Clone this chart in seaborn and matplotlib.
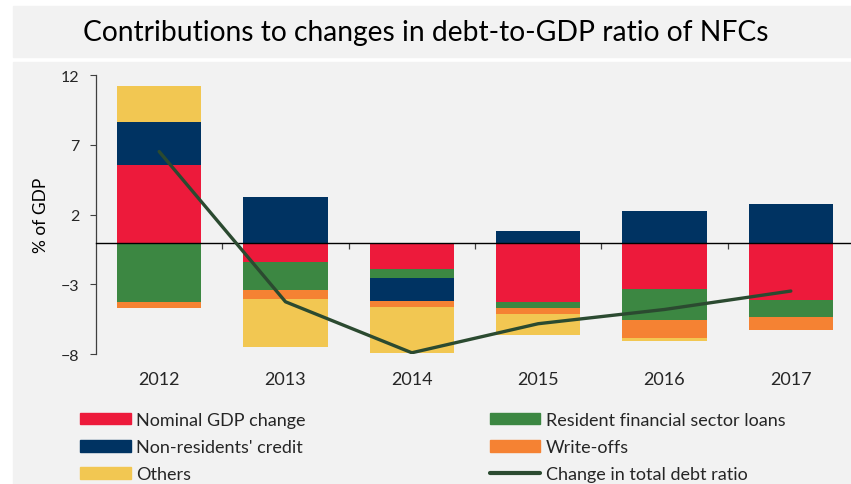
import numpy as np
import pandas as pd
import matplotlib
matplotlib.use("Agg")
import matplotlib.pyplot as plt
from matplotlib.patches import Rectangle, Patch
from matplotlib.lines import Line2D
import seaborn as sns

# Contributions (percentage points of GDP), stacked in this order
years = ["2012", "2013", "2014", "2015", "2016", "2017"]
nominal_gdp = [5.57, -1.37, -1.92, -4.26, -3.31, -4.09]
resident_loans = [-4.24, -1.99, -0.65, -0.41, -2.22, -1.25]
non_resident_credit = [3.06, 3.26, -1.60, 0.82, 2.25, 2.73]
write_offs = [-0.45, -0.66, -0.43, -0.43, -1.28, -0.93]
others = [2.57, -3.46, -3.29, -1.55, -0.27, 0.0]
total_change = [6.52, -4.24, -7.89, -5.81, -4.79, -3.47]

y_ticks = [-8, -3, 2, 7, 12]

RED = "#ED1A3B"
GREEN = "#3C8742"
NAVY = "#003362"
ORANGE = "#F58233"
YELLOW = "#F2C752"
LINE = "#2B4A30"
PANEL = "#F2F2F2"

components = [
    ("Nominal GDP change", nominal_gdp, RED),
    ("Resident financial sector loans", resident_loans, GREEN),
    ("Non-residents' credit", non_resident_credit, NAVY),
    ("Write-offs", write_offs, ORANGE),
    ("Others", others, YELLOW),
]

sns.set_theme(style="white")
plt.rcParams["font.family"] = ["Lato", "DejaVu Sans"]

W, H = 851, 485
fig = plt.figure(figsize=(W / 100, H / 100), dpi=100)
fig.patch.set_facecolor("white")

# grey title strip and chart panel
fig.patches.append(Rectangle((13 / W, 1 - 58 / H), 838 / W, 51 / H,
                             transform=fig.transFigure, color=PANEL, zorder=-5))
fig.patches.append(Rectangle((13 / W, 0), 838 / W, (H - 63) / H,
                             transform=fig.transFigure, color=PANEL, zorder=-5))
fig.text(426 / W, 1 - 33 / H, "Contributions to changes in debt-to-GDP ratio of NFCs",
         ha="center", va="center", fontsize=20.3, color="black")

ax = fig.add_axes([96 / W, (H - 355.3) / H, 758 / W, 279.3 / H])
ax.set_facecolor("none")
ax.set_zorder(2)

# stacked bars: positive and negative parts stack separately from zero;
# outer segments are drawn first so inner ones sit on top of them
vals = np.array([c[1] for c in components], dtype=float)
pos_cum = np.cumsum(np.clip(vals, 0, None), axis=0)
neg_cum = np.cumsum(np.clip(vals, None, 0), axis=0)
ends = np.where(vals > 0, pos_cum, np.where(vals < 0, neg_cum, 0.0))

for k in reversed(range(len(components))):
    df = pd.DataFrame({"year": years, "end": ends[k]})
    sns.barplot(data=df, x="year", y="end", color=components[k][2], saturation=1,
                width=0.667, linewidth=0, ax=ax, zorder=2)

sns.lineplot(x=np.arange(len(years)), y=total_change, color=LINE, linewidth=2.4,
             ax=ax, zorder=4, solid_capstyle="round")

ax.set_xlim(-0.5, len(years) - 0.5)
ax.set_ylim(-8, 12)
ax.set_yticks(y_ticks)
ax.tick_params(axis="y", labelsize=11.5, length=4, width=0.8, color="#404040",
               direction="out", pad=8, left=True)
ax.set_ylabel("% of GDP", fontsize=12.5, color="black")
ax.yaxis.set_label_coords(-0.062, 0.5)

for s in ("top", "right"):
    ax.spines[s].set_visible(False)
ax.spines["left"].set_color("#404040")
ax.spines["left"].set_linewidth(0.9)
ax.spines["bottom"].set_position(("data", 0))
ax.spines["bottom"].set_color("black")
ax.spines["bottom"].set_linewidth(1.0)
ax.spines["bottom"].set_zorder(3)

ax.set_xticks(range(len(years)), labels=[""] * len(years))
ax.set_xticks(np.arange(0.5, len(years) - 1, 1.0), minor=True)
ax.tick_params(axis="x", which="major", length=0)
ax.tick_params(axis="x", which="minor", length=4, width=0.9, color="#404040",
               direction="out", bottom=True)
ax.set_xlabel("")

sec = ax.secondary_xaxis("bottom")
sec.set_xticks(range(len(years)), labels=years)
sec.tick_params(length=0, pad=12, labelsize=13)
sec.spines["bottom"].set_visible(False)

handles = [
    Patch(color=RED), Patch(color=NAVY), Patch(color=YELLOW),
    Patch(color=GREEN), Patch(color=ORANGE),
    Line2D([], [], color=LINE, linewidth=3),
]
labels = ["Nominal GDP change", "Non-residents' credit", "Others",
          "Resident financial sector loans", "Write-offs", "Change in total debt ratio"]
fig.legend(handles, labels, ncol=2, loc="upper left",
           bbox_to_anchor=(80 / W, 1 - 413 / H), frameon=False, fontsize=13,
           handlelength=2.8, handleheight=0.6, handletextpad=0.3,
           columnspacing=10.2, labelspacing=0.62, borderpad=0, borderaxespad=0)

fig.savefig("out.png", dpi=100, facecolor="white")
